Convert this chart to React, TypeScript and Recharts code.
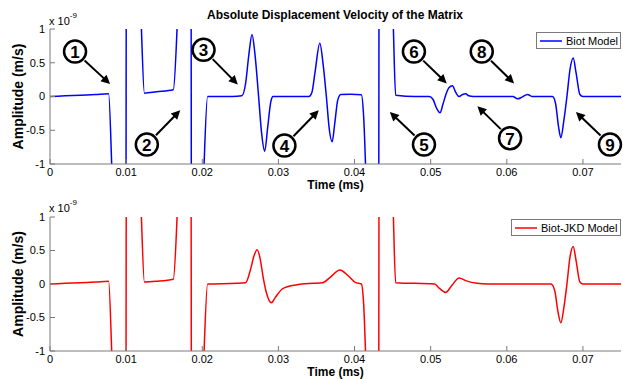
import React from 'react';
import { LineChart, Line, XAxis, YAxis, Legend, ReferenceDot, ReferenceLine } from 'recharts';

// time axis in ms, amplitude in units of 1e-9 m/s
const timeTicks = [0, 0.01, 0.02, 0.03, 0.04, 0.05, 0.06, 0.07];
const ampTicks = [-1, -0.5, 0, 0.5, 1];

const biotTime = [
  0, 0.002, 0.004, 0.006, 0.0077, 0.0082, 0.009, 0.00995, 0.01005, 0.011,
  0.0119, 0.0124, 0.014, 0.0162, 0.0169, 0.0178, 0.0185, 0.0186, 0.0195, 0.0201,
  0.0207, 0.024, 0.0252, 0.0257, 0.0261, 0.02654, 0.0269, 0.0274, 0.0278, 0.0282,
  0.0286, 0.029, 0.0293, 0.034, 0.0344, 0.0348, 0.03544, 0.0359, 0.0363, 0.0367,
  0.03706, 0.0374, 0.0378, 0.0382, 0.0395, 0.0409, 0.0412, 0.0416, 0.0425, 0.04315,
  0.04325, 0.044, 0.04505, 0.0454, 0.048, 0.0498, 0.0503, 0.0508, 0.05123, 0.0516,
  0.052, 0.0524, 0.05285, 0.0533, 0.05373, 0.0542, 0.0546, 0.055, 0.0556, 0.0608,
  0.0614, 0.062, 0.06272, 0.0633, 0.066, 0.0664, 0.0668, 0.0671, 0.0675, 0.0679,
  0.0683, 0.06872, 0.0691, 0.0696, 0.07, 0.075,
];
const biotAmp = [
  0, 0.01, 0.02, 0.03, 0.04, -1.3, -3, -4, 4, 3,
  1.3, 0.05, 0.07, 0.1, 1.5, 3, 4, -4, -3, -1.4,
  0, 0, 0.01, 0.2, 0.6, 0.92, 0.65, 0, -0.55, -0.81,
  -0.45, -0.08, 0, 0, 0.06, 0.35, 0.79, 0.45, 0, -0.5,
  -0.67, -0.4, -0.05, 0.03, 0.035, 0.025, -0.3, -1.5, -3, -4,
  4, 3, 1.2, 0.02, 0, 0, -0.04, -0.18, -0.24, -0.12,
  0.03, 0.13, 0.16, 0.06, 0, 0.03, 0.04, 0.01, 0, 0,
  -0.035, -0.01, 0.03, 0, 0, -0.1, -0.45, -0.61, -0.35, 0,
  0.4, 0.57, 0.35, 0.03, 0, 0,
];

const jkdTime = [
  0, 0.002, 0.004, 0.006, 0.0077, 0.0082, 0.009, 0.00995, 0.01005, 0.011,
  0.0119, 0.0124, 0.014, 0.0162, 0.0169, 0.0178, 0.0185, 0.0186, 0.0195, 0.0201,
  0.0207, 0.0245, 0.0257, 0.0263, 0.0268, 0.0272, 0.0276, 0.028, 0.0284, 0.02908,
  0.0296, 0.0305, 0.0315, 0.0325, 0.0345, 0.0358, 0.0368, 0.03807, 0.0392, 0.0401,
  0.0409, 0.0412, 0.0416, 0.0425, 0.04315, 0.04325, 0.044, 0.04505, 0.0454, 0.0505,
  0.0512, 0.05197, 0.0528, 0.05373, 0.0546, 0.0561, 0.0575, 0.0658, 0.0663, 0.0667,
  0.0671, 0.0675, 0.0679, 0.0683, 0.06872, 0.0691, 0.0696, 0.07, 0.075,
];
const jkdAmp = [
  0, 0.01, 0.02, 0.03, 0.04, -1.3, -3, -4, 4, 3,
  1.3, 0.03, 0.04, 0.07, 1.5, 3, 4, -4, -3, -1.4,
  0, 0.01, 0.02, 0.2, 0.42, 0.51, 0.38, 0.1, -0.12, -0.28,
  -0.2, -0.075, -0.03, -0.01, 0.01, 0.02, 0.1, 0.21, 0.12, 0.025,
  0, -0.3, -1.5, -3, -4, 4, 3, 1.2, 0.02, 0,
  -0.07, -0.125, -0.02, 0.09, 0.05, 0.01, 0, 0, -0.1, -0.4,
  -0.58, -0.35, 0, 0.4, 0.56, 0.35, 0.03, 0, 0,
];

// numbered callouts on the upper panel: circle centre and arrow tip
const calloutLabels = ['1', '2', '3', '4', '5', '6', '7', '8', '9'];
const calloutT = [0.00329, 0.01272, 0.02017, 0.03079, 0.04912, 0.0478, 0.06043, 0.05671, 0.07355];
const calloutA = [0.666, -0.712, 0.691, -0.727, -0.712, 0.666, -0.618, 0.666, -0.712];
const tipT = [0.00789, 0.01711, 0.02467, 0.0353, 0.04464, 0.05211, 0.05614, 0.06096, 0.06908];
const tipA = [0.184, -0.204, 0.176, -0.204, -0.23, 0.194, -0.145, 0.194, -0.23];

const biotData = biotTime.map((t, i) => ({ t, v: biotAmp[i] }));
const jkdData = jkdTime.map((t, i) => ({ t, v: jkdAmp[i] }));

const FONT = '"Liberation Sans", Arial, Helvetica, sans-serif';
const AXIS = '#7a7a7a';

const ArrowShape = (props: any) => {
  const { x1, y1, x2, y2 } = props;
  const dx = x2 - x1;
  const dy = y2 - y1;
  const len = Math.hypot(dx, dy) || 1;
  const ux = dx / len;
  const uy = dy / len;
  const sx = x1 + ux * 13;
  const sy = y1 + uy * 13;
  const bx = x2 - ux * 9;
  const by = y2 - uy * 9;
  const pts = `${x2},${y2} ${bx - uy * 4.5},${by + ux * 4.5} ${bx + uy * 4.5},${by - ux * 4.5}`;
  return (
    <g>
      <line x1={sx} y1={sy} x2={bx + ux} y2={by + uy} stroke="#000" strokeWidth={2} />
      <polygon points={pts} fill="#000" />
    </g>
  );
};

const circleShape = (label: string) => (props: any) => (
  <g>
    <circle cx={props.cx} cy={props.cy} r={11} fill="#fff" stroke="#000" strokeWidth={2.5} />
    <text
      x={props.cx}
      y={props.cy + 1}
      textAnchor="middle"
      dominantBaseline="central"
      fontFamily={FONT}
      fontWeight="bold"
      fontSize={17}
      fill="#000"
    >
      {label}
    </text>
  </g>
);

const YLabel = ({ viewBox }: any) => {
  const cx = viewBox.x + 18;
  const cy = viewBox.y + viewBox.height / 2;
  return (
    <text
      x={cx}
      y={cy}
      transform={`rotate(-90 ${cx} ${cy})`}
      textAnchor="middle"
      dominantBaseline="central"
      fontFamily={FONT}
      fontWeight="bold"
      fontSize={14}
      fill="#000"
    >
      Amplitude (m/s)
    </text>
  );
};

const XLabel = ({ viewBox }: any) => (
  <text
    x={viewBox.x + viewBox.width / 2}
    y={viewBox.y + 21}
    textAnchor="middle"
    dominantBaseline="central"
    fontFamily={FONT}
    fontWeight="bold"
    fontSize={12}
    fill="#000"
  >
    Time (ms)
  </text>
);

const LegendBox = ({ label, color, width }: { label: string; color: string; width: number }) => (
  <div
    style={{
      display: 'flex',
      alignItems: 'center',
      width,
      border: `1px solid ${AXIS}`,
      background: '#fff',
      height: 17,
      padding: '0 3px',
      fontFamily: FONT,
      fontSize: 11,
      color: '#000',
      whiteSpace: 'nowrap',
      boxSizing: 'border-box',
    }}
  >
    <svg width={22} height={4} style={{ marginRight: 4, flexShrink: 0 }}>
      <line x1={0} y1={2} x2={22} y2={2} stroke={color} strokeWidth={1.5} />
    </svg>
    <span>{label}</span>
  </div>
);

interface PanelProps {
  data: { t: number; v: number }[];
  color: string;
  name: string;
  height: number;
  marginTop: number;
  legendLeft: number;
  legendTop: number;
  legendWidth: number;
  callouts?: boolean;
}

const Panel = ({ data, color, name, height, marginTop, legendLeft, legendTop, legendWidth, callouts }: PanelProps) => {
  const tickStyle = { fill: '#000', fontSize: 11, fontFamily: FONT };
  return (
    <LineChart width={623} height={height} data={data} margin={{ top: marginTop, right: 2, left: 0, bottom: 0 }}>
      <XAxis
        dataKey="t"
        type="number"
        domain={[0, 0.075]}
        ticks={timeTicks}
        interval={0}
        allowDataOverflow
        stroke={AXIS}
        tick={tickStyle}
        tickSize={-5}
        tickMargin={9}
        height={28}
        label={<XLabel />}
      />
      <XAxis
        xAxisId="top"
        orientation="top"
        type="number"
        domain={[0, 0.075]}
        ticks={timeTicks}
        interval={0}
        stroke={AXIS}
        tick={false}
        tickSize={-5}
        height={0}
      />
      <YAxis
        type="number"
        domain={[-1, 1]}
        ticks={ampTicks}
        interval={0}
        allowDataOverflow
        stroke={AXIS}
        tick={tickStyle}
        tickSize={-5}
        tickMargin={10}
        width={50}
        label={<YLabel />}
      />
      <YAxis
        yAxisId="right"
        orientation="right"
        type="number"
        domain={[-1, 1]}
        ticks={ampTicks}
        interval={0}
        stroke={AXIS}
        tick={false}
        tickSize={-5}
        width={0}
      />
      <Legend
        layout="horizontal"
        verticalAlign="middle"
        align="center"
        wrapperStyle={{ left: legendLeft, top: legendTop, width: legendWidth }}
        content={() => <LegendBox label={name} color={color} width={legendWidth} />}
      />
      <Line
        dataKey="v"
        name={name}
        type="monotone"
        stroke={color}
        strokeWidth={1.5}
        dot={false}
        activeDot={false}
        isAnimationActive={false}
      />
      {callouts &&
        calloutLabels.map((lab, i) => (
          <ReferenceLine
            key={`arrow-${lab}`}
            segment={[
              { x: calloutT[i], y: calloutA[i] },
              { x: tipT[i], y: tipA[i] },
            ]}
            ifOverflow="visible"
            shape={ArrowShape}
          />
        ))}
      {callouts &&
        calloutLabels.map((lab, i) => (
          <ReferenceDot
            key={`dot-${lab}`}
            x={calloutT[i]}
            y={calloutA[i]}
            ifOverflow="visible"
            shape={circleShape(lab)}
          />
        ))}
    </LineChart>
  );
};

const Exponent = ({ top }: { top: number }) => (
  <div style={{ position: 'absolute', left: 49, top, fontFamily: FONT, fontSize: 11, color: '#000', whiteSpace: 'nowrap' }}>
    x 10<sup style={{ fontSize: 8, verticalAlign: 'top', position: 'relative', top: -4 }}>-9</sup>
  </div>
);

export default function App() {
  return (
    <div style={{ position: 'absolute', left: 0, top: 0, width: 623, height: 379, background: '#fff', overflow: 'hidden' }}>
      <div
        style={{
          position: 'absolute',
          left: 0,
          width: 670,
          top: 8,
          textAlign: 'center',
          fontFamily: FONT,
          fontWeight: 'bold',
          fontSize: 12,
          color: '#000',
        }}
      >
        Absolute Displacement Velocity of the Matrix
      </div>
      <Exponent top={15} />
      <Exponent top={202} />
      <div style={{ position: 'absolute', left: 0, top: 0 }}>
        <Panel
          data={biotData}
          color="#0000ff"
          name="Biot Model"
          height={192}
          marginTop={29}
          legendLeft={536}
          legendTop={32}
          legendWidth={85}
          callouts
        />
      </div>
      <div style={{ position: 'absolute', left: 0, top: 192 }}>
        <Panel
          data={jkdData}
          color="#ff0000"
          name="Biot-JKD Model"
          height={187}
          marginTop={25}
          legendLeft={511}
          legendTop={27}
          legendWidth={110}
        />
      </div>
    </div>
  );
}
